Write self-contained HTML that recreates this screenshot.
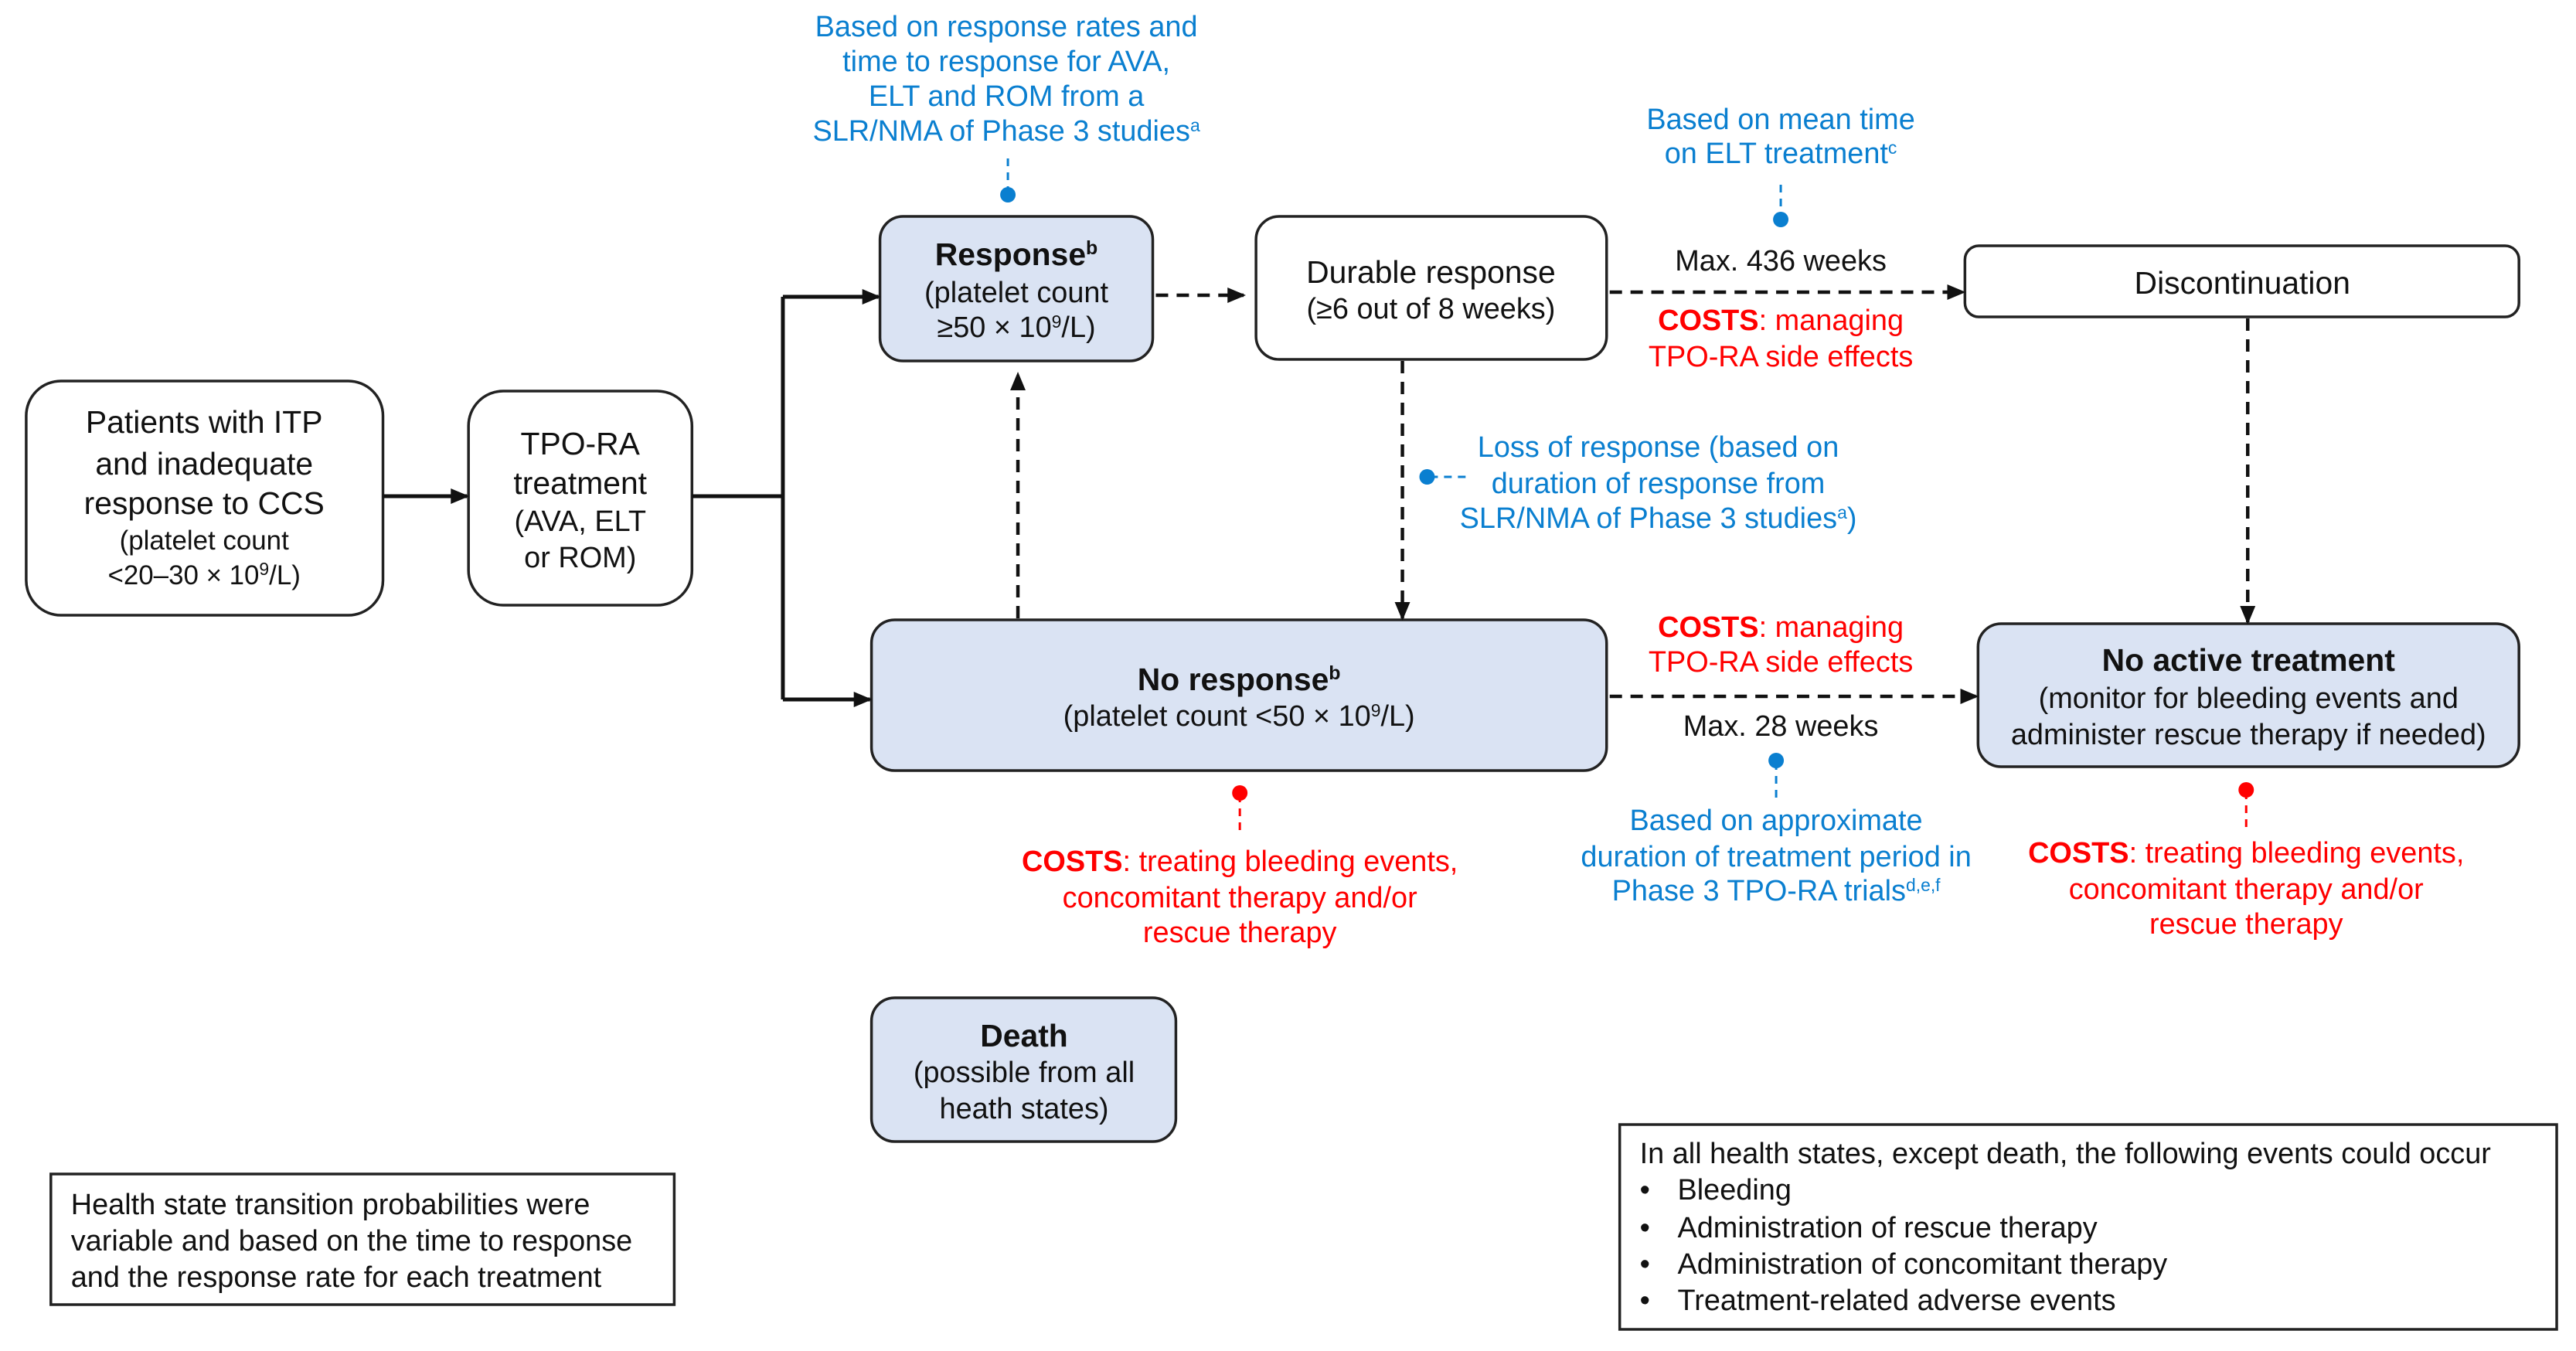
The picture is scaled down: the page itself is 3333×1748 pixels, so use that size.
<!DOCTYPE html>
<html><head><meta charset="utf-8"><style>
html,body{margin:0;padding:0;background:#fff}
svg{display:block}
text{font-family:"Liberation Sans",Arial,sans-serif;font-size:38px;fill:#111}
.b{fill:#0a7fd0}.r{fill:#ff0000}.bold{font-weight:bold}
</style></head><body>
<svg width="3333" height="1748" viewBox="0 0 3333 1748" xmlns="http://www.w3.org/2000/svg">
<defs>
<marker id="ah2" markerWidth="24" markerHeight="24" refX="21" refY="12" orient="auto" markerUnits="userSpaceOnUse" viewBox="0 0 24 24">
<path d="M0,2 L24,12 L0,22 z" fill="#111"/></marker>
</defs>
<g transform="scale(0.997,1)">
<g stroke="#222" stroke-width="3.5">
<rect x="34" y="493" width="463" height="303" rx="45" fill="#fff"/>
<rect x="608" y="506" width="290" height="277" rx="45" fill="#fff"/>
<rect x="1142" y="280" width="354" height="187" rx="30" fill="#dae3f3"/>
<rect x="1630" y="280" width="455" height="185" rx="30" fill="#fff"/>
<rect x="2550" y="318" width="719" height="92" rx="18" fill="#fff"/>
<rect x="1131" y="802" width="954" height="195" rx="30" fill="#dae3f3"/>
<rect x="2567" y="807" width="702" height="185" rx="30" fill="#dae3f3"/>
<rect x="1131" y="1291" width="395" height="186" rx="30" fill="#dae3f3"/>
<rect x="66" y="1519" width="809" height="169" fill="#fff"/>
<rect x="2102" y="1455" width="1216" height="265" fill="#fff"/>
</g>
<g stroke="#111" stroke-width="5" fill="none">
<line x1="497" y1="642" x2="606" y2="642" marker-end="url(#ah2)"/>
<polyline points="898,642 1016,642"/>
<polyline points="1016,384 1016,905"/>
<line x1="1016" y1="384" x2="1140" y2="384" marker-end="url(#ah2)"/>
<line x1="1016" y1="905" x2="1129" y2="905" marker-end="url(#ah2)"/>
</g>
<g stroke="#111" stroke-width="4.5" fill="none" stroke-dasharray="16,11">
<line x1="1500" y1="382" x2="1614" y2="382" marker-end="url(#ah2)"/>
<line x1="2089" y1="378" x2="2548" y2="378" marker-end="url(#ah2)"/>
<line x1="1820" y1="467" x2="1820" y2="800" marker-end="url(#ah2)"/>
<line x1="1321" y1="800" x2="1321" y2="484" marker-end="url(#ah2)"/>
<line x1="2917" y1="412" x2="2917" y2="805" marker-end="url(#ah2)"/>
<line x1="2089" y1="901" x2="2565" y2="901" marker-end="url(#ah2)"/>
</g>
<g stroke-width="3" stroke-dasharray="10,8" fill="none">
<line x1="1308" y1="205" x2="1308" y2="250" stroke="#0a7fd0"/>
<line x1="2311" y1="239" x2="2311" y2="282" stroke="#0a7fd0"/>
<line x1="1856" y1="617" x2="1904" y2="617" stroke="#0a7fd0"/>
<line x1="2305" y1="986" x2="2305" y2="1039" stroke="#0a7fd0"/>
<line x1="1609" y1="1028" x2="1609" y2="1078" stroke="#ff0000"/>
<line x1="2915" y1="1024" x2="2915" y2="1072" stroke="#ff0000"/>
</g>
<circle cx="1308" cy="252" r="10" fill="#0a7fd0"/>
<circle cx="2311" cy="284" r="10" fill="#0a7fd0"/>
<circle cx="1852" cy="617" r="10" fill="#0a7fd0"/>
<circle cx="2305" cy="984" r="10" fill="#0a7fd0"/>
<circle cx="1609" cy="1026" r="10" fill="#ff0000"/>
<circle cx="2915" cy="1022" r="10" fill="#ff0000"/>
<g text-anchor="middle">
<text x="265" y="560" style="font-size:41px">Patients with ITP</text>
<text x="265" y="614" style="font-size:41px">and inadequate</text>
<text x="265" y="665" style="font-size:41px">response to CCS</text>
<text x="265" y="711" style="font-size:35px">(platelet count</text>
<text x="265" y="756" style="font-size:35px">&lt;20–30 × 10<tspan dy="-12" style="font-size:23px">9</tspan><tspan dy="12">/L)</tspan></text>
<text x="753" y="588" style="font-size:41px">TPO-RA</text>
<text x="753" y="639" style="font-size:41px">treatment</text>
<text x="753" y="687">(AVA, ELT</text>
<text x="753" y="734">or ROM)</text>
<text x="1319" y="343" class="bold" style="font-size:41px">Response<tspan dy="-14" style="font-size:25px">b</tspan></text>
<text x="1319" y="391">(platelet count</text>
<text x="1319" y="436">≥50 × 10<tspan dy="-12" style="font-size:23px">9</tspan><tspan dy="12">/L)</tspan></text>
<text x="1857" y="366" style="font-size:41px">Durable response</text>
<text x="1857" y="412">(≥6 out of 8 weeks)</text>
<text x="2910" y="380" style="font-size:41px">Discontinuation</text>
<text x="1608" y="893" class="bold" style="font-size:41px">No response<tspan dy="-14" style="font-size:25px">b</tspan></text>
<text x="1608" y="939">(platelet count &lt;50 × 10<tspan dy="-12" style="font-size:23px">9</tspan><tspan dy="12">/L)</tspan></text>
<text x="2918" y="868" class="bold" style="font-size:41px">No active treatment</text>
<text x="2918" y="916">(monitor for bleeding events and</text>
<text x="2918" y="963">administer rescue therapy if needed)</text>
<text x="1329" y="1354" class="bold" style="font-size:41px">Death</text>
<text x="1329" y="1400">(possible from all</text>
<text x="1329" y="1447">heath states)</text>
<text x="1306" y="47" class="b">Based on response rates and</text>
<text x="1306" y="92" class="b">time to response for AVA,</text>
<text x="1306" y="137" class="b">ELT and ROM from a</text>
<text x="1306" y="182" class="b">SLR/NMA of Phase 3 studies<tspan dy="-12" style="font-size:23px">a</tspan></text>
<text x="2311" y="167" class="b">Based on mean time</text>
<text x="2311" y="211" class="b">on ELT treatment<tspan dy="-12" style="font-size:23px">c</tspan></text>
<text x="2311" y="350">Max. 436 weeks</text>
<text x="2311" y="427" class="r"><tspan class="bold r">COSTS</tspan>: managing</text>
<text x="2311" y="474" class="r">TPO-RA side effects</text>
<text x="2152" y="591" class="b">Loss of response (based on</text>
<text x="2152" y="638" class="b">duration of response from</text>
<text x="2152" y="683" class="b">SLR/NMA of Phase 3 studies<tspan dy="-12" style="font-size:23px">a</tspan><tspan dy="12">)</tspan></text>
<text x="2311" y="824" class="r"><tspan class="bold r">COSTS</tspan>: managing</text>
<text x="2311" y="869" class="r">TPO-RA side effects</text>
<text x="2311" y="952">Max. 28 weeks</text>
<text x="2305" y="1074" class="b">Based on approximate</text>
<text x="2305" y="1121" class="b">duration of treatment period in</text>
<text x="2305" y="1165" class="b">Phase 3 TPO-RA trials<tspan dy="-12" style="font-size:23px">d,e,f</tspan></text>
<text x="1609" y="1127" class="r"><tspan class="bold r">COSTS</tspan>: treating bleeding events,</text>
<text x="1609" y="1174" class="r">concomitant therapy and/or</text>
<text x="1609" y="1219" class="r">rescue therapy</text>
<text x="2915" y="1116" class="r"><tspan class="bold r">COSTS</tspan>: treating bleeding events,</text>
<text x="2915" y="1163" class="r">concomitant therapy and/or</text>
<text x="2915" y="1208" class="r">rescue therapy</text>
</g>
<text x="92" y="1571">Health state transition probabilities were</text>
<text x="92" y="1618">variable and based on the time to response</text>
<text x="92" y="1665">and the response rate for each treatment</text>
<text x="2128" y="1505">In all health states, except death, the following events could occur</text>
<text x="2128" y="1552">•</text><text x="2177" y="1552">Bleeding</text>
<text x="2128" y="1601">•</text><text x="2177" y="1601">Administration of rescue therapy</text>
<text x="2128" y="1648">•</text><text x="2177" y="1648">Administration of concomitant therapy</text>
<text x="2128" y="1695">•</text><text x="2177" y="1695">Treatment-related adverse events</text>
</g>
</svg>
</body></html>
